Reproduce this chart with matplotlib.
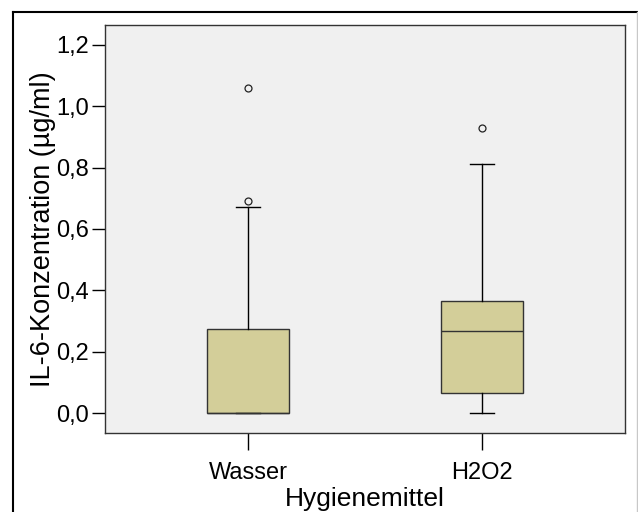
import matplotlib
matplotlib.use('Agg')
import matplotlib.pyplot as plt
from matplotlib.lines import Line2D

plt.rcParams['font.family'] = ['Liberation Sans', 'DejaVu Sans']

# box statistics (µg/ml)
groups = ['Wasser', 'H2O2']
q1 = [0.0, 0.064]
median = [0.0, 0.266]
q3 = [0.274, 0.366]
whisker_low = [0.0, 0.0]
whisker_high = [0.673, 0.811]
outliers = [[0.691, 1.061], [0.928]]

yticks = [0.0, 0.2, 0.4, 0.6, 0.8, 1.0, 1.2]

stats = []
for i, g in enumerate(groups):
    stats.append({'label': g, 'q1': q1[i], 'med': median[i], 'q3': q3[i],
                  'whislo': whisker_low[i], 'whishi': whisker_high[i],
                  'fliers': outliers[i]})

fig = plt.figure(figsize=(6.38, 5.12), dpi=100)
fig.patch.set_facecolor('white')

# outer frame of the chart
fig.add_artist(Line2D([12.5/638, 12.5/638], [0, 1 - 11.5/512], transform=fig.transFigure, color='black', lw=1.5))
fig.add_artist(Line2D([12.5/638, 1], [1 - 11.5/512, 1 - 11.5/512], transform=fig.transFigure, color='black', lw=1.5))
fig.add_artist(Line2D([636.5/638, 636.5/638], [0, 1 - 11.5/512], transform=fig.transFigure, color='#c8c8c8', lw=1))

ax = fig.add_axes([105/638, 1 - 433/512, 520/638, 408/512])
ax.set_facecolor('#f0f0f0')

ax.bxp(stats, positions=[1, 2], widths=0.35, patch_artist=True, capwidths=0.1,
       boxprops=dict(facecolor='#d3ce99', edgecolor='#333333', linewidth=1),
       medianprops=dict(color='#333333', linewidth=1),
       whiskerprops=dict(color='black', linewidth=1),
       capprops=dict(color='black', linewidth=1),
       flierprops=dict(marker='o', markersize=5, markerfacecolor='none',
                       markeredgecolor='#222222', markeredgewidth=0.9))

ax.set_xlim(0.389, 2.611)
ax.set_ylim(-0.065, 1.265)
ax.set_yticks(yticks)
ax.set_yticklabels([f'{v:.1f}'.replace('.', ',') for v in yticks])
ax.set_xticks([1, 2])
ax.set_xticklabels(groups)

ax.tick_params(axis='y', direction='out', length=9.5, width=1, labelsize=17, pad=2)
ax.tick_params(axis='x', direction='out', length=12, width=1, labelsize=17, pad=9)
for s in ax.spines.values():
    s.set_color('#333333')
    s.set_linewidth(1)

ax.set_ylabel('IL-6-Konzentration (µg/ml)', fontsize=19.5, labelpad=0)
ax.set_xlabel('Hygienemittel', fontsize=19, labelpad=2)

plt.savefig('out.png', dpi=100)
